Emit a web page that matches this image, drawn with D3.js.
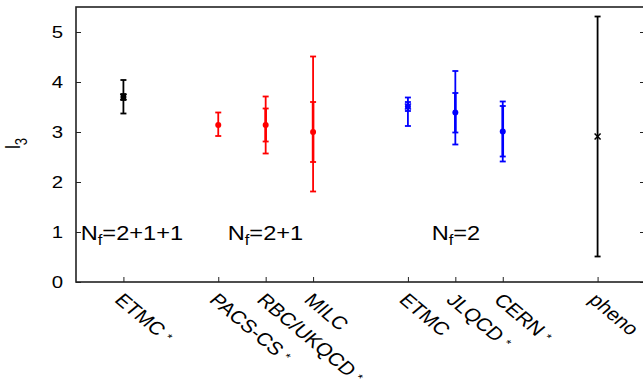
<!DOCTYPE html>
<html><head><meta charset="utf-8">
<script src="https://cdn.jsdelivr.net/npm/d3@7"></script>
<style>body{margin:0;background:#fff}svg{display:block}</style>
</head><body>
<script>
const labels = ["ETMC","PACS-CS","RBC/UKQCD","MILC","ETMC","JLQCD","CERN","pheno"];
const starred = [true,true,true,false,false,true,true,false];
const positions = [1,3,4,5,7,8,9,11];
const values = [3.70,3.14,3.14,3.00,3.51,3.39,3.01,2.91];
const outerHi = [4.04,3.39,3.71,4.51,3.69,4.22,3.61,5.31];
const outerLo = [3.37,2.92,2.57,1.81,3.12,2.75,2.41,0.51];
const innerHi = [3.76,null,3.47,3.60,3.60,3.78,3.52,null];
const innerLo = [3.64,null,2.81,2.40,3.42,2.99,2.51,null];
const colors = ["#000","#f00","#f00","#f00","#00f","#00f","#00f","#000"];
const markers = ["xdot","dot","dot","dot","xdot","dot","dot","x"];
const yTicks = [0,1,2,3,4,5];
const groupLabels = ["2+1+1","2+1","2"];
const groupPos = [0.1,3.2,7.5];

const W=643,H=383, SX=1.2;
const FONT="'Liberation Sans', Arial, Helvetica, sans-serif";
const svg=d3.select("body").append("svg").attr("width",W).attr("height",H)
  .style("font-family",FONT);
const x=d3.scaleLinear().domain([0,12]).range([76,645]);
const y=d3.scaleLinear().domain([0,5.5]).range([282,7]);
const axisCol="#222";

// frame
svg.append("rect").attr("x",x(0)).attr("y",y(5.5)).attr("width",x(12)-x(0)).attr("height",y(0)-y(5.5))
  .attr("fill","none").attr("stroke",axisCol).attr("stroke-width",1.6);

// y axis ticks
const yAx=svg.append("g").attr("transform",`translate(${x(0)},0)`)
  .call(d3.axisLeft(y).tickValues(yTicks).tickSize(-5).tickFormat(""));
yAx.select(".domain").remove();
yAx.selectAll("line").attr("stroke",axisCol);
yTicks.forEach(v=>{
  svg.append("text").attr("transform",`translate(${x(0)-13},${y(v)+6}) scale(${SX},1)`)
    .attr("text-anchor","end").attr("font-size",17).attr("fill","#000").text(d3.format("d")(v));
});
const yAxR=svg.append("g").attr("transform",`translate(${x(12)},0)`)
  .call(d3.axisRight(y).tickValues(yTicks).tickSize(-5).tickFormat(""));
yAxR.select(".domain").remove();
yAxR.selectAll("line").attr("stroke",axisCol);

// x axis
const xAx=svg.append("g").attr("transform",`translate(0,${y(0)})`)
  .call(d3.axisBottom(x).tickValues(positions).tickSize(-5).tickFormat(""));
xAx.select(".domain").remove();
xAx.selectAll("line").attr("stroke",axisCol);

// x labels rotated (sheared like the reference)
labels.forEach((l,i)=>{
  const t=svg.append("text").attr("transform",`translate(${x(positions[i])-10},${y(0)+19}) scale(${SX},1) rotate(45)`)
    .attr("font-size",18).attr("fill","#000");
  t.append("tspan").text(l);
  if(starred[i]) t.append("tspan").attr("font-size",11).attr("dx",5).attr("dy",-3).text("*");
});

// y label
const yl=svg.append("text").attr("transform",`translate(20,149) scale(${SX},1) rotate(-90)`).attr("font-size",17).attr("fill","#000");
yl.append("tspan").text("l");
yl.append("tspan").attr("font-size",13).attr("dy",6).text("3");

// group labels
groupLabels.forEach((g,i)=>{
  const t=svg.append("text").attr("transform",`translate(${x(groupPos[i])},${y(1)+8}) scale(1.18,1)`).attr("font-size",20).attr("fill","#000");
  t.append("tspan").text("N");
  t.append("tspan").attr("font-size",14).attr("dy",5).text("f");
  t.append("tspan").attr("dy",-5).text("="+g);
});

// error bars
const cap=3;
positions.forEach((p,i)=>{
  const g=svg.append("g").attr("stroke",colors[i]).attr("fill",colors[i]);
  const cx=x(p);
  g.append("line").attr("x1",cx).attr("x2",cx).attr("y1",y(outerHi[i])).attr("y2",y(outerLo[i])).attr("stroke-width",1.8);
  const caps=[outerHi[i],outerLo[i]];
  if(innerHi[i]!=null){
    caps.push(innerHi[i],innerLo[i]);
    g.append("line").attr("x1",cx).attr("x2",cx).attr("y1",y(innerHi[i])).attr("y2",y(innerLo[i])).attr("stroke-width",2.6);
  }
  caps.forEach(v=>g.append("line").attr("x1",cx-cap).attr("x2",cx+cap).attr("y1",y(v)).attr("y2",y(v)).attr("stroke-width",1.8));
  const cy=y(values[i]);
  if(markers[i]==="dot"||markers[i]==="xdot") g.append("circle").attr("cx",cx).attr("cy",cy).attr("r",3).attr("stroke","none");
  if(markers[i]==="x"||markers[i]==="xdot"){
    const s=3;
    g.append("path").attr("d",`M${cx-s},${cy-s}L${cx+s},${cy+s}M${cx-s},${cy+s}L${cx+s},${cy-s}`).attr("stroke-width",1.5).attr("fill","none");
  }
});
</script>
</body></html>
